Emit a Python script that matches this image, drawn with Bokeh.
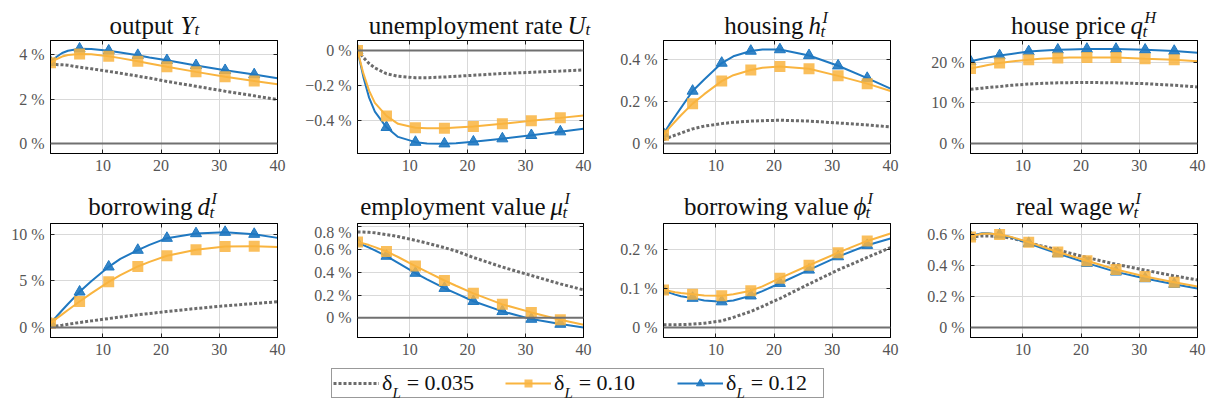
from bokeh.plotting import figure
from bokeh.models import (ColumnDataSource, Range1d, FixedTicker, LinearAxis, Span, Label,
                          CustomJSTickFormatter, Legend, LegendItem)
from bokeh.layouts import row, column
from bokeh.embed import file_html
from bokeh.resources import INLINE

# ---------------- data ----------------
T = [1, 2, 3, 4, 6, 8, 11, 13, 16, 18, 21, 26, 31, 36, 40]
MARK_T = [1, 6, 11, 16, 21, 26, 31, 36]
X_TICKS = [10, 20, 30, 40]
SERIES_LABELS = ["δ_L = 0.035", "δ_L = 0.10", "δ_L = 0.12"]

output_035 = [3.56, 3.56, 3.55, 3.53, 3.44, 3.37, 3.25, 3.17, 3.04, 2.95, 2.80, 2.58, 2.36, 2.15, 1.98]
output_010 = [3.64, 3.80, 3.92, 3.99, 4.04, 4.02, 3.93, 3.85, 3.71, 3.61, 3.46, 3.23, 3.01, 2.82, 2.67]
output_012 = [3.67, 3.90, 4.08, 4.18, 4.27, 4.26, 4.18, 4.10, 3.98, 3.88, 3.75, 3.52, 3.30, 3.11, 2.94]

unemp_035 = [0.0, -0.04, -0.075, -0.10, -0.133, -0.148, -0.156, -0.156, -0.152, -0.148, -0.142, -0.132, -0.125, -0.118, -0.112]
unemp_010 = [0.0, -0.13, -0.23, -0.30, -0.375, -0.42, -0.442, -0.446, -0.445, -0.441, -0.436, -0.42, -0.402, -0.386, -0.372]
unemp_012 = [0.0, -0.15, -0.27, -0.35, -0.44, -0.495, -0.525, -0.533, -0.534, -0.531, -0.523, -0.505, -0.486, -0.465, -0.448]

housing_035 = [0.019, 0.03, 0.04, 0.05, 0.07, 0.083, 0.095, 0.101, 0.107, 0.109, 0.111, 0.107, 0.098, 0.089, 0.079]
housing_010 = [0.04, 0.075, 0.105, 0.135, 0.19, 0.235, 0.297, 0.325, 0.350, 0.361, 0.367, 0.356, 0.322, 0.285, 0.25]
housing_012 = [0.047, 0.09, 0.13, 0.17, 0.25, 0.305, 0.383, 0.415, 0.44, 0.447, 0.447, 0.419, 0.37, 0.311, 0.261]

hprice_035 = [13.3, 13.45, 13.6, 13.75, 14.0, 14.3, 14.6, 14.75, 14.9, 14.95, 15.0, 14.9, 14.7, 14.3, 13.9]
hprice_010 = [18.4, 18.7, 19.0, 19.3, 19.8, 20.15, 20.6, 20.8, 21.0, 21.1, 21.1, 21.1, 20.8, 20.6, 20.2]
hprice_012 = [20.2, 20.5, 20.8, 21.1, 21.6, 22.0, 22.6, 22.8, 23.0, 23.1, 23.2, 23.2, 23.0, 22.7, 22.3]

borrow_035 = [0.07, 0.16, 0.25, 0.35, 0.54, 0.71, 0.96, 1.13, 1.36, 1.50, 1.71, 2.04, 2.32, 2.57, 2.75]
borrow_010 = [0.46, 0.93, 1.41, 1.88, 2.79, 3.65, 4.89, 5.60, 6.54, 7.03, 7.68, 8.32, 8.68, 8.71, 8.61]
borrow_012 = [0.46, 1.15, 1.85, 2.52, 3.82, 4.95, 6.50, 7.35, 8.29, 8.85, 9.57, 10.07, 10.21, 10.0, 9.6]

empval_035 = [0.756, 0.755, 0.752, 0.748, 0.732, 0.715, 0.682, 0.657, 0.617, 0.588, 0.531, 0.446, 0.372, 0.298, 0.245]
empval_010 = [0.667, 0.655, 0.64, 0.622, 0.584, 0.535, 0.455, 0.404, 0.328, 0.282, 0.215, 0.118, 0.047, -0.018, -0.062]
empval_012 = [0.661, 0.64, 0.617, 0.594, 0.543, 0.484, 0.393, 0.338, 0.26, 0.214, 0.145, 0.056, -0.012, -0.056, -0.086]

borval_035 = [0.007, 0.007, 0.007, 0.0075, 0.0085, 0.011, 0.017, 0.026, 0.041, 0.054, 0.074, 0.111, 0.147, 0.179, 0.204]
borval_010 = [0.096, 0.093, 0.09, 0.088, 0.085, 0.082, 0.081, 0.085, 0.094, 0.105, 0.126, 0.159, 0.191, 0.221, 0.24]
borval_012 = [0.094, 0.089, 0.084, 0.08, 0.075, 0.069, 0.066, 0.069, 0.081, 0.093, 0.113, 0.147, 0.181, 0.21, 0.227]

wage_035 = [0.579, 0.585, 0.589, 0.589, 0.585, 0.575, 0.546, 0.527, 0.499, 0.479, 0.45, 0.407, 0.369, 0.332, 0.306]
wage_010 = [0.583, 0.595, 0.603, 0.605, 0.598, 0.583, 0.549, 0.524, 0.486, 0.463, 0.429, 0.373, 0.328, 0.291, 0.264]
wage_012 = [0.585, 0.598, 0.606, 0.607, 0.596, 0.58, 0.542, 0.515, 0.476, 0.452, 0.414, 0.358, 0.315, 0.279, 0.251]

# title pieces: word, variable, subscript, superscript
TITLES = [
    ("output", "Y", "t", None),
    ("unemployment rate", "U", "t", None),
    ("housing", "h", "t", "I"),
    ("house price", "q", "t", "H"),
    ("borrowing", "d", "t", "I"),
    ("employment value", "μ", "t", "I"),
    ("borrowing value", "ϕ", "t", "I"),
    ("real wage", "w", "t", "I"),
]
Y_TICKS = [[0, 2, 4], [0, -0.2, -0.4], [0, 0.2, 0.4], [0, 10, 20],
           [0, 5, 10], [0, 0.2, 0.4, 0.6, 0.8], [0, 0.1, 0.2], [0, 0.2, 0.4, 0.6]]
Y_DEC = [0, 1, 1, 0, 0, 1, 1, 1]
Y_RANGES = [(-0.449, 4.644), (-0.590, 0.057), (-0.047, 0.490), (-2.45, 25.3),
            (-1.07, 11.14), (-0.174, 0.830), (-0.0255, 0.2655), (-0.064, 0.669)]
SERIES = [
    (output_035, output_010, output_012),
    (unemp_035, unemp_010, unemp_012),
    (housing_035, housing_010, housing_012),
    (hprice_035, hprice_010, hprice_012),
    (borrow_035, borrow_010, borrow_012),
    (empval_035, empval_010, empval_012),
    (borval_035, borval_010, borval_012),
    (wage_035, wage_010, wage_012),
]

# ---------------- style / layout ----------------
GRAY = "#6b6b6b"
ORANGE = "#f9b43f"
BLUE = "#1f78c1"
SERIF = "Liberation Serif"

FIG_W = [290, 307, 307, 304]
BL = [50, 67, 66, 66]
BR = [13, 14, 14, 11]
FRAME_LEFT = [50, 357, 663, 970]
PANEL_H = [145, 137]
BB = [32, 23]
STRIP_H = [40, 38]
TITLE_BASE = [15.5, 17.5]      # baseline above strip bottom
# word end, variable start, script offset (relative to frame left)
TITLE_POS = [(123, 130, 14), (205, 210, 18), (140, 145, 13), (155, 160, 13),
             (142, 147, 13), (188, 193, 13), (185, 190, 13), (142, 147, 17)]

mark_idx = [i for i, t in enumerate(T) if t in MARK_T]

FMT_CODE = """
const s = (tick === 0) ? "0" : Math.abs(tick).toFixed(d);
return (tick < 0 ? "\\u2212" : "") + s + " %";
"""


def style_axis(ax, show_labels=True):
    ax.major_tick_in = 4
    ax.major_tick_out = 0
    ax.minor_tick_line_color = None
    ax.major_tick_line_color = "#222222"
    ax.axis_line_color = "black"
    ax.major_label_text_font = SERIF
    if show_labels:
        ax.major_label_text_color = "#555555"
        ax.major_label_text_font_size = "16px"
        ax.major_label_standoff = 6
    else:
        ax.major_label_text_color = None
        ax.major_label_text_font_size = "0px"
        ax.major_label_standoff = 0


def make_panel(k):
    ri, ci = divmod(k, 4)
    p = figure(width=FIG_W[ci], height=PANEL_H[ri], output_backend="svg", toolbar_location=None,
               x_range=Range1d(1, 40), y_range=Range1d(*Y_RANGES[k]),
               min_border_left=BL[ci], min_border_right=BR[ci],
               min_border_top=0, min_border_bottom=BB[ri])
    p.outline_line_color = "black"
    p.outline_line_width = 1
    xa = p.xaxis[0]
    ya = p.yaxis[0]
    xa.ticker = FixedTicker(ticks=X_TICKS)
    ya.ticker = FixedTicker(ticks=Y_TICKS[k])
    style_axis(xa)
    style_axis(ya)
    ya.formatter = CustomJSTickFormatter(args=dict(d=Y_DEC[k]), code=FMT_CODE)
    top = LinearAxis(ticker=FixedTicker(ticks=X_TICKS))
    style_axis(top, False)
    p.add_layout(top, "above")
    right = LinearAxis(ticker=FixedTicker(ticks=Y_TICKS[k]))
    style_axis(right, False)
    p.add_layout(right, "right")

    p.xgrid.ticker = FixedTicker(ticks=X_TICKS)
    p.ygrid.ticker = FixedTicker(ticks=[v for v in Y_TICKS[k] if v != 0])
    p.grid.grid_line_color = "#d9d9d9"
    p.grid.grid_line_width = 1
    p.add_layout(Span(location=0, dimension="width", line_color="#707070", line_width=2))

    g, o, b = SERIES[k]
    src = ColumnDataSource(data=dict(t=T, g=g, o=o, b=b))
    msrc = ColumnDataSource(data=dict(t=[T[i] for i in mark_idx], o=[o[i] for i in mark_idx],
                                      b=[b[i] for i in mark_idx]))
    p.line("t", "g", source=src, line_color=GRAY, line_width=3, line_dash="3 2")
    p.line("t", "b", source=src, line_color=BLUE, line_width=2)
    p.scatter("t", "b", source=msrc, marker="triangle", size=11, fill_color=BLUE, line_color=BLUE,
              fill_alpha=0.9)
    p.line("t", "o", source=src, line_color=ORANGE, line_width=2)
    p.scatter("t", "o", source=msrc, marker="square", size=11, fill_color=ORANGE, line_color=None,
              fill_alpha=0.85)
    return p


def make_strip(ri):
    s = figure(width=sum(FIG_W), height=STRIP_H[ri], output_backend="svg", toolbar_location=None,
               x_axis_type=None, y_axis_type=None, min_border=0,
               x_range=Range1d(0, 1), y_range=Range1d(0, 1))
    s.outline_line_color = None
    base = TITLE_BASE[ri]
    common = dict(x_units="screen", y_units="screen", text_font=SERIF, text_color="#111111",
                  text_baseline="alphabetic", level="overlay")
    for ci in range(4):
        k = ri * 4 + ci
        word, var, sub, sup = TITLES[k]
        wend, vstart, sdx = TITLE_POS[k]
        x0 = FRAME_LEFT[ci]
        s.add_layout(Label(x=x0 + wend, y=base, text=word, text_align="right",
                           text_font_size="25px", **common))
        s.add_layout(Label(x=x0 + vstart, y=base, text=var, text_align="left",
                           text_font_size="25px", text_font_style="italic", **common))
        sub_dy = -6 if sup else -4
        s.add_layout(Label(x=x0 + vstart + sdx - (1 if sup else 0), y=base + sub_dy, text=sub,
                           text_align="left", text_font_size="17px", text_font_style="italic",
                           **common))
        if sup:
            s.add_layout(Label(x=x0 + vstart + sdx + 1, y=base + 8, text=sup, text_align="left",
                               text_font_size="16px", text_font_style="italic", **common))
    return s


panels = [make_panel(k) for k in range(8)]
strips = [make_strip(0), make_strip(1)]

# ---------------- legend ----------------
lg = figure(width=sum(FIG_W), height=44, output_backend="svg", toolbar_location=None,
            x_axis_type=None, y_axis_type=None, min_border=0,
            x_range=Range1d(0, 1), y_range=Range1d(0, 1))
lg.outline_line_color = None
nan = float("nan")
dummy = ColumnDataSource(data=dict(x=[nan], y=[nan]))
r_g = lg.line("x", "y", source=dummy, line_color=GRAY, line_width=3, line_dash="3 2")
r_ol = lg.line("x", "y", source=dummy, line_color=ORANGE, line_width=2)
r_om = lg.scatter("x", "y", source=dummy, marker="square", size=11, fill_color=ORANGE,
                  line_color=None, fill_alpha=0.85)
r_bl = lg.line("x", "y", source=dummy, line_color=BLUE, line_width=2)
r_bm = lg.scatter("x", "y", source=dummy, marker="triangle", size=11, fill_color=BLUE,
                  line_color=BLUE, fill_alpha=0.9)

PAD = 1
LX = 331
leg_texts = [s.replace("_L", "\u2009\u2009") for s in SERIES_LABELS]
legend = Legend(items=[LegendItem(label=leg_texts[0], renderers=[r_g]),
                       LegendItem(label=leg_texts[1], renderers=[r_ol, r_om]),
                       LegendItem(label=leg_texts[2], renderers=[r_bl, r_bm])],
                orientation="horizontal", location=(LX, 6), margin=0, padding=PAD,
                glyph_width=46, glyph_height=20, label_standoff=3, spacing=27, label_width=96,
                label_text_font=SERIF, label_text_font_size="22px", label_text_color="#111111",
                border_line_color="#333333", border_line_width=1, background_fill_alpha=0.0)
lg.add_layout(legend)
item_w = 46 + 3 + 96 + 27
for i in range(3):
    tx = LX + PAD + i * item_w + 46 + 3 + 11
    lg.add_layout(Label(x=tx, y=12, x_units="screen", y_units="screen", text="L",
                        text_font=SERIF, text_font_size="15px", text_font_style="italic",
                        text_color="#111111", text_baseline="alphabetic", text_align="left",
                        level="overlay"))

layout = column(strips[0], row(*panels[:4]), strips[1], row(*panels[4:]), lg)
open("out.html", "w").write(file_html(layout, INLINE))
